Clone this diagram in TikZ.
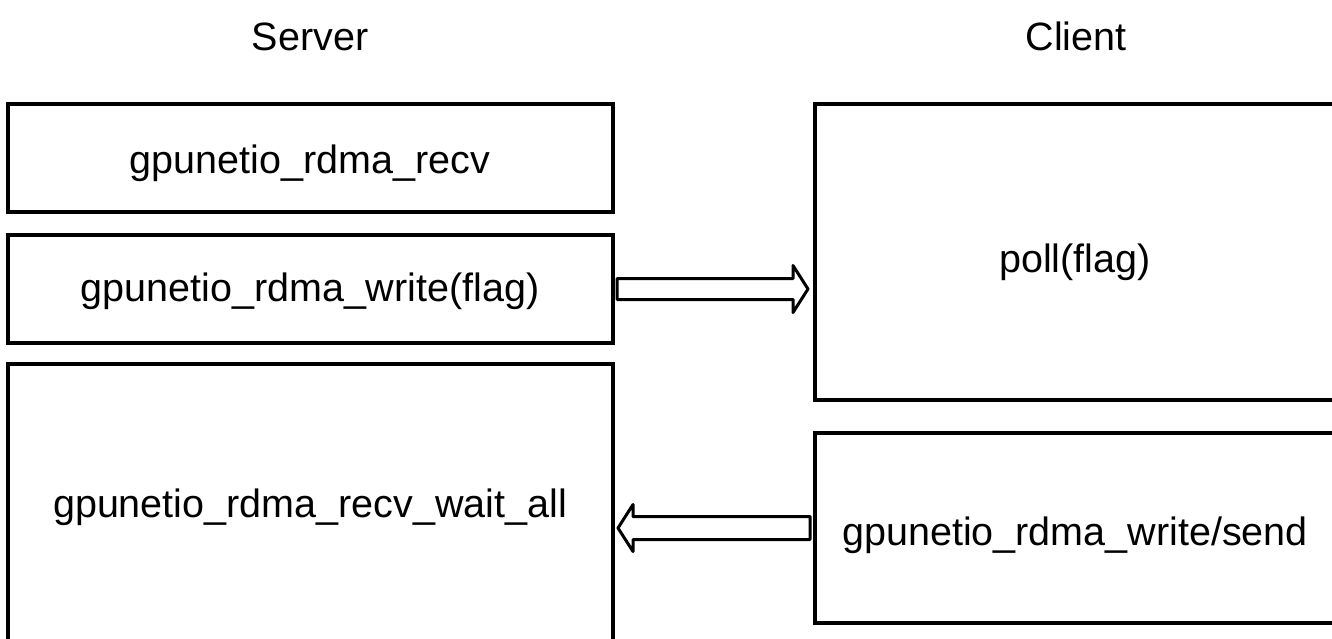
\documentclass[tikz,border=0pt]{standalone}
\usepackage{fontspec}
\setmainfont{Liberation Sans}
\usetikzlibrary{calc}
\begin{document}
\begin{tikzpicture}[x=1pt,y=-1pt,
  box/.style={draw, line width=4pt, rectangle, inner sep=0pt, outer sep=0pt},
  lbl/.style={anchor=base, inner sep=0pt, font=\fontsize{39.5}{46}\selectfont},
  fat/.style={draw, line width=3pt, line join=round, fill=white}]
\useasboundingbox (0,0) rectangle (1332,638);
\clip (0,0) rectangle (1332,638);
% headings
\node[lbl] (server) at (310,50) {Server};
\node[lbl] (client) at (1076,50) {Client};
% server boxes
\node[box, minimum width=605pt, minimum height=108pt] (b1) at (310.5,158) {};
\node[box, minimum width=605pt, minimum height=108pt] (b2) at (310.5,289) {};
\node[box, minimum width=605pt, minimum height=336pt] (b3) at (310.5,532) {};
% client boxes
\node[box, minimum width=585pt, minimum height=296pt] (c1) at (1107.5,252) {};
\node[box, minimum width=585pt, minimum height=190pt] (c2) at (1107.5,528) {};
% labels
\node[lbl] (t1) at (310,173) {gpunetio\_rdma\_recv};
\node[lbl] (t2) at (310,301) {gpunetio\_rdma\_write(flag)};
\node[lbl] (t3) at (310,517) {gpunetio\_rdma\_recv\_wait\_all};
\node[lbl] (t4) at (1075,272) {poll(flag)};
\node[lbl] (t5) at (1075,545) {gpunetio\_rdma\_write/send};
% fat arrows
\draw[fat] ($(b2.east)+(4,-10.5)$) -- ($(b2.east)+(180,-10.5)$) -- ($(b2.east)+(180,-23.5)$)
  -- ($(b2.east)+(195,0)$) -- ($(b2.east)+(180,23.5)$) -- ($(b2.east)+(180,10.5)$)
  -- ($(b2.east)+(4,10.5)$) -- cycle;
\draw[fat] ($(c2.west)+(-5,-11.5)$) -- ($(c2.west)+(-182,-11.5)$) -- ($(c2.west)+(-182,-23.5)$)
  -- ($(c2.west)+(-197,0)$) -- ($(c2.west)+(-182,23.5)$) -- ($(c2.west)+(-182,11.5)$)
  -- ($(c2.west)+(-5,11.5)$) -- cycle;
\end{tikzpicture}
\end{document}
